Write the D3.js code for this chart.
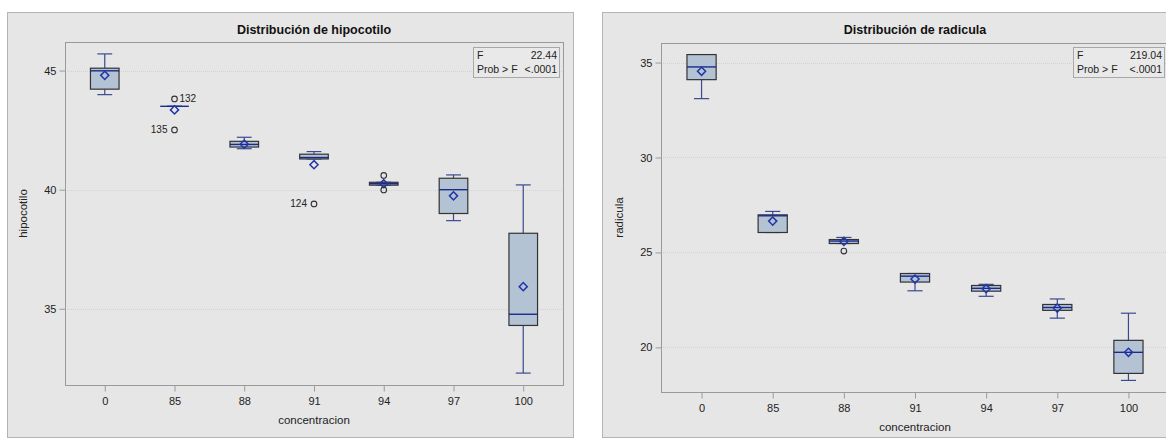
<!DOCTYPE html>
<html>
<head>
<meta charset="utf-8">
<script src="https://cdn.jsdelivr.net/npm/d3@7"></script>
<style>
  body { margin: 0; background: #fff; }
  text { font-family: "Liberation Sans", Arial, sans-serif; }
</style>
</head>
<body>
<script>
"use strict";

const categories = ["0", "85", "88", "91", "94", "97", "100"];

// hipocotilo
const hipoLow = [43.99, 43.5, 41.72, 41.29, 40.19, 38.7, 32.3];
const hipoQ1 = [44.22, 43.5, 41.79, 41.29, 40.19, 39.0, 34.3];
const hipoMedian = [44.99, 43.5, 41.9, 41.35, 40.25, 40.0, 34.77];
const hipoQ3 = [45.1, 43.5, 42.03, 41.49, 40.31, 40.48, 38.17];
const hipoHigh = [45.7, 43.5, 42.2, 41.6, 40.31, 40.62, 40.2];
const hipoMean = [44.8, 43.35, 41.91, 41.05, 40.25, 39.74, 35.93];
const hipoOutliers = [
  { cat: "85", value: 43.81, label: "132", side: "right" },
  { cat: "85", value: 42.51, label: "135", side: "left" },
  { cat: "91", value: 39.4, label: "124", side: "left" },
  { cat: "94", value: 40.6, label: "", side: "" },
  { cat: "94", value: 39.99, label: "", side: "" }
];
const hipoTicks = [35, 40, 45];

// radicula
const radLow = [33.1, 26.05, 25.47, 22.98, 22.69, 21.54, 18.26];
const radQ1 = [34.1, 26.05, 25.47, 23.44, 22.96, 21.95, 18.63];
const radMedian = [34.77, 26.93, 25.6, 23.75, 23.11, 22.1, 19.74];
const radQ3 = [35.42, 26.98, 25.68, 23.89, 23.26, 22.26, 20.37];
const radHigh = [35.42, 27.16, 25.79, 23.89, 23.32, 22.55, 21.8];
const radMean = [34.54, 26.65, 25.58, 23.6, 23.09, 22.07, 19.74];
const radOutliers = [
  { cat: "88", value: 25.07, label: "", side: "" }
];
const radTicks = [20, 25, 30, 35];

const svg = d3
  .select("body")
  .append("svg")
  .attr("width", 1166)
  .attr("height", 439);

function drawPanel(p) {
  const g = svg.append("g");

  g.append("rect")
    .attr("x", p.outer[0] + 0.5)
    .attr("y", p.outer[1] + 0.5)
    .attr("width", p.outer[2])
    .attr("height", p.outer[3])
    .attr("fill", "#e6e6e6")
    .attr("stroke", "#b4b4b4");

  const x = d3
    .scalePoint()
    .domain(categories)
    .range([p.left, p.right])
    .padding(0.57);

  const y = d3
    .scaleLinear()
    .domain(p.yDomain)
    .range([p.bottom, p.top]);

  const step = x.step();
  const bw = step * 0.41;
  const cap = bw * 0.52;

  // title
  g.append("text")
    .attr("x", (p.left + p.right) / 2)
    .attr("y", 34)
    .attr("text-anchor", "middle")
    .attr("font-size", 12.5)
    .attr("font-weight", "bold")
    .attr("fill", "#111")
    .text(p.title);

  // grid
  g.selectAll(".grid")
    .data(p.ticks)
    .enter()
    .append("line")
    .attr("x1", p.left)
    .attr("x2", p.right)
    .attr("y1", d => Math.round(y(d)) + 0.5)
    .attr("y2", d => Math.round(y(d)) + 0.5)
    .attr("stroke", "#d2d2d2")
    .attr("stroke-dasharray", "1,1");

  // frame
  g.append("rect")
    .attr("x", p.left + 0.5)
    .attr("y", p.top + 0.5)
    .attr("width", p.right - p.left)
    .attr("height", p.bottom - p.top)
    .attr("fill", "none")
    .attr("stroke", "#9a9a9a");

  // axes
  const yAxis = g
    .append("g")
    .attr("transform", "translate(" + (p.left + 0.5) + ",0)")
    .call(d3.axisLeft(y).tickValues(p.ticks).tickSize(6).tickPadding(3));
  const xAxis = g
    .append("g")
    .attr("transform", "translate(0," + (p.bottom + 0.5) + ")")
    .call(d3.axisBottom(x).tickSize(6).tickPadding(6));

  [yAxis, xAxis].forEach(a => {
    a.select(".domain").remove();
    a.selectAll("line").attr("stroke", "#9a9a9a");
    a.selectAll("text")
      .attr("font-size", 11)
      .attr("fill", "#222")
      .style("font-family", "'Liberation Sans', Arial, sans-serif");
  });

  g.append("text")
    .attr("x", (p.left + p.right) / 2)
    .attr("y", p.bottom + 39)
    .attr("text-anchor", "middle")
    .attr("font-size", 11.5)
    .attr("fill", "#222")
    .text("concentracion");

  g.append("text")
    .attr("transform", "translate(" + p.yTitleX + "," + (p.top + p.bottom) / 2 + ") rotate(-90)")
    .attr("text-anchor", "middle")
    .attr("font-size", 11.5)
    .attr("fill", "#222")
    .text(p.yTitle);

  const rows = categories.map((c, i) => ({
    cat: c,
    low: p.low[i],
    q1: p.q1[i],
    med: p.median[i],
    q3: p.q3[i],
    high: p.high[i],
    mean: p.mean[i]
  }));

  const boxes = g
    .selectAll(".box")
    .data(rows)
    .enter()
    .append("g")
    .attr("class", "box");

  // whiskers
  boxes.append("line")
    .attr("x1", d => x(d.cat))
    .attr("x2", d => x(d.cat))
    .attr("y1", d => y(d.high))
    .attr("y2", d => y(d.q3))
    .attr("stroke", "#3b4a8e")
    .attr("stroke-width", 1.2);
  boxes.append("line")
    .attr("x1", d => x(d.cat))
    .attr("x2", d => x(d.cat))
    .attr("y1", d => y(d.q1))
    .attr("y2", d => y(d.low))
    .attr("stroke", "#3b4a8e")
    .attr("stroke-width", 1.2);
  boxes.append("line")
    .attr("x1", d => x(d.cat) - cap / 2)
    .attr("x2", d => x(d.cat) + cap / 2)
    .attr("y1", d => y(d.high))
    .attr("y2", d => y(d.high))
    .attr("stroke", "#3b4a8e")
    .attr("stroke-width", 1.2);
  boxes.append("line")
    .attr("x1", d => x(d.cat) - cap / 2)
    .attr("x2", d => x(d.cat) + cap / 2)
    .attr("y1", d => y(d.low))
    .attr("y2", d => y(d.low))
    .attr("stroke", "#3b4a8e")
    .attr("stroke-width", 1.2);

  // box
  boxes.filter(d => d.q3 > d.q1)
    .append("rect")
    .attr("x", d => x(d.cat) - bw / 2)
    .attr("y", d => y(d.q3))
    .attr("width", bw)
    .attr("height", d => y(d.q1) - y(d.q3))
    .attr("fill", "#b3c3d4")
    .attr("stroke", "#333")
    .attr("stroke-width", 1.2);

  // median
  boxes.append("line")
    .attr("x1", d => x(d.cat) - bw / 2)
    .attr("x2", d => x(d.cat) + bw / 2)
    .attr("y1", d => y(d.med))
    .attr("y2", d => y(d.med))
    .attr("stroke", "#1a2a8c")
    .attr("stroke-width", 1.4);

  // mean diamond
  boxes.append("path")
    .attr("d", d3.symbol(d3.symbolDiamond2, 42))
    .attr("transform", d => "translate(" + x(d.cat) + "," + y(d.mean) + ")")
    .attr("fill", "none")
    .attr("stroke", "#2336a6")
    .attr("stroke-width", 1.5);

  // outliers
  g.selectAll(".out")
    .data(p.outliers)
    .enter()
    .append("circle")
    .attr("cx", d => x(d.cat))
    .attr("cy", d => y(d.value))
    .attr("r", 2.8)
    .attr("fill", "none")
    .attr("stroke", "#333")
    .attr("stroke-width", 1.1);

  g.selectAll(".outlab")
    .data(p.outliers.filter(d => d.label))
    .enter()
    .append("text")
    .attr("x", d => x(d.cat) + (d.side === "right" ? 5 : -7))
    .attr("y", d => y(d.value) + 3.5)
    .attr("text-anchor", d => (d.side === "right" ? "start" : "end"))
    .attr("font-size", 10)
    .attr("fill", "#222")
    .text(d => d.label);

  // inset F table
  const ins = g.append("g").attr("transform", "translate(" + p.inset[0] + "," + p.inset[1] + ")");
  ins.append("rect")
    .attr("x", 0.5)
    .attr("y", 0.5)
    .attr("width", p.inset[2])
    .attr("height", 30)
    .attr("fill", "#e9e9e9")
    .attr("stroke", "#a8a8a8");
  ins.append("text").attr("x", 4).attr("y", 12).attr("font-size", 10.5).attr("fill", "#222").text("F");
  ins.append("text").attr("x", p.inset[2] - 2).attr("y", 12).attr("font-size", 10.5)
    .attr("text-anchor", "end").attr("fill", "#222").text(p.fValue);
  ins.append("text").attr("x", 4).attr("y", 26).attr("font-size", 10.5).attr("fill", "#222").text("Prob > F");
  ins.append("text").attr("x", p.inset[2] - 2).attr("y", 26).attr("font-size", 10.5)
    .attr("text-anchor", "end").attr("fill", "#222").text("<.0001");
}

drawPanel({
  outer: [7, 12, 566, 425],
  left: 65, right: 563, top: 42, bottom: 385,
  yDomain: [31.8, 46.2],
  ticks: hipoTicks,
  title: "Distribución de hipocotilo",
  yTitle: "hipocotilo",
  yTitleX: 27,
  low: hipoLow, q1: hipoQ1, median: hipoMedian, q3: hipoQ3, high: hipoHigh, mean: hipoMean,
  outliers: hipoOutliers,
  inset: [473, 47, 86],
  fValue: "22.44"
});

drawPanel({
  outer: [602, 12, 600, 425],
  left: 661, right: 1169, top: 43, bottom: 392,
  yDomain: [17.65, 36.03],
  ticks: radTicks,
  title: "Distribución de radicula",
  yTitle: "radicula",
  yTitleX: 623,
  low: radLow, q1: radQ1, median: radMedian, q3: radQ3, high: radHigh, mean: radMean,
  outliers: radOutliers,
  inset: [1073, 47, 91],
  fValue: "219.04"
});
</script>
</body>
</html>
